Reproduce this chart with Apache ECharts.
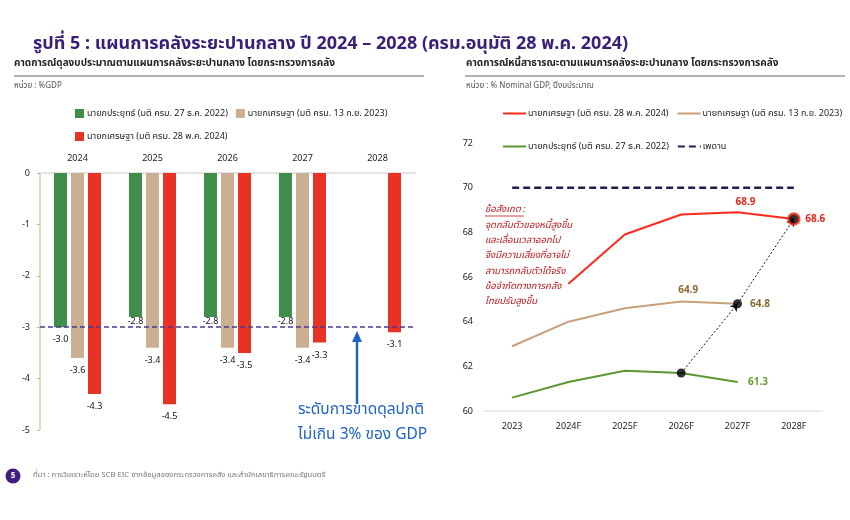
<!DOCTYPE html>
<html><head><meta charset="utf-8">
<script src="https://cdn.jsdelivr.net/npm/echarts@6/dist/echarts.min.js"></script>
<style>html,body{margin:0;padding:0;background:#fff}#c{width:850px;height:520px}</style>
</head><body><div id="c"></div>
<script>
// ---- Left chart data: budget balance (%GDP)
const barYears = ['2024','2025','2026','2027','2028'];
const barPrayut = [-3.0, -2.8, -2.8, -2.8, null];
const barSrettha23 = [-3.6, -3.4, -3.4, -3.4, null];
const barSrettha24 = [-4.3, -4.5, -3.5, -3.3, -3.1];
const deficitLimit = -3;
const barYTicks = [0, -1, -2, -3, -4, -5];

// ---- Right chart data: public debt (% nominal GDP)
const debtYears = ['2023','2024F','2025F','2026F','2027F','2028F'];
const debtSrettha24 = [null, 65.7, 67.9, 68.8, 68.9, 68.6];
const debtSrettha23 = [62.9, 64.0, 64.6, 64.9, 64.8, null];
const debtPrayut = [60.6, 61.3, 61.8, 61.7, 61.3, null];
const debtCeiling = [70, 70, 70, 70, 70, 70];
const debtYTicks = [60, 62, 64, 66, 68, 70, 72];

const nPrayut = 'นายกประยุทธ์ (มติ ครม. 27 ธ.ค. 2022)';
const nSrettha23 = 'นายกเศรษฐา (มติ ครม. 13 ก.ย. 2023)';
const nSrettha24 = 'นายกเศรษฐา (มติ ครม. 28 พ.ค. 2024)';
const ZW = '\u200B';

const FONT = '"Noto Sans", "Noto Sans Thai", Tahoma, sans-serif';
const cGreen = '#3F8F4A', cTan = '#CBAF93', cRed = '#E83224';
const lRed = '#FF2A1A', lTan = '#C9A07A', lGreen = '#5E9632', lNavy = '#1E1E50';

const chart = echarts.init(document.getElementById('c'), null, {renderer:'canvas'});

const barLabel = {show:true, position:'bottom', distance:8, fontSize:9, color:'#111', fontFamily:FONT,
  formatter: p => p.value == null ? '' : p.value.toFixed(1)};

function greenData() {
  return barPrayut.map(v => (v != null && v > -3) ? {value:v, label:{distance:0}} : v);
}
function withLabels(arr, spec) {
  return arr.map((v,i) => spec[i] ? {value:v, label:Object.assign({show:true}, spec[i])} : v);
}
function lineLabel(color) {
  return {show:false, fontSize:10, fontWeight:'bold', color:color, fontFamily:FONT,
    formatter: p => p.value.toFixed(1)};
}

const pivots = [
  [debtYears[3], debtPrayut[3]],
  [debtYears[4], debtSrettha23[4]],
  [debtYears[5], debtSrettha24[5]]
];

const lineLegend = {itemWidth:23, itemHeight:2, itemGap:8, padding:0, width:360,
  itemStyle:{opacity:0},
  textStyle:{fontSize:9, color:'#222', fontFamily:FONT, padding:[0,0,0,-3]}, selectedMode:false};

const option = {
  animation:false,
  textStyle:{fontFamily:FONT},
  grid:[
    {left:40, top:173, width:375, height:257},
    {left:484, top:143, width:338, height:268}
  ],
  legend:[
    {data:[nPrayut, nSrettha23], left:70, top:104, itemWidth:9, itemHeight:9, itemGap:8, icon:'rect',
      textStyle:{fontSize:9, color:'#222', fontFamily:FONT, padding:[0,0,0,-2]}, selectedMode:false},
    {data:[nSrettha24], left:70, top:127, itemWidth:9, itemHeight:9, icon:'rect',
      textStyle:{fontSize:9, color:'#222', fontFamily:FONT, padding:[0,0,0,-2]}, selectedMode:false},
    Object.assign({data:[nSrettha24+ZW, nSrettha23+ZW], left:502, top:109}, lineLegend),
    Object.assign({data:[nPrayut+ZW, 'เพดาน'], left:502, top:142}, lineLegend)
  ],
  xAxis:[
    {type:'category', gridIndex:0, data:barYears, position:'top',
      axisLine:{lineStyle:{color:'#e3e3e3', width:2}}, axisTick:{show:false},
      axisLabel:{fontSize:9, color:'#222', margin:10, fontFamily:FONT}},
    {type:'category', gridIndex:1, data:debtYears,
      axisLine:{lineStyle:{color:'#e6e6e6', width:1.5}}, axisTick:{show:false},
      axisLabel:{fontSize:9, color:'#222', margin:11, fontFamily:FONT}}
  ],
  yAxis:[
    {type:'value', gridIndex:0, min:Math.min(...barYTicks), max:Math.max(...barYTicks), interval:1,
      axisLine:{show:true, lineStyle:{color:'#DCCBB3', width:1.5}},
      axisTick:{show:true, length:3, lineStyle:{color:'#C8AE8C'}},
      splitLine:{show:false}, axisLabel:{fontSize:9, color:'#222', margin:10, fontFamily:FONT}},
    {type:'value', gridIndex:1, min:Math.min(...debtYTicks), max:Math.max(...debtYTicks), interval:2,
      axisLine:{show:false}, axisTick:{show:false}, splitLine:{show:false},
      axisLabel:{fontSize:9, color:'#222', margin:11, fontFamily:FONT}}
  ],
  series:[
    {name:nPrayut, type:'bar', xAxisIndex:0, yAxisIndex:0, data:greenData(), barWidth:13, barGap:'31%',
      itemStyle:{color:cGreen}, label:barLabel},
    {name:nSrettha23, type:'bar', xAxisIndex:0, yAxisIndex:0, data:barSrettha23, barWidth:13, barGap:'31%',
      itemStyle:{color:cTan}, label:barLabel},
    {name:nSrettha24, type:'bar', xAxisIndex:0, yAxisIndex:0, data:barSrettha24, barWidth:13, barGap:'31%',
      itemStyle:{color:cRed}, label:barLabel,
      markLine:{silent:true, symbol:'none', label:{show:false},
        lineStyle:{type:[5,3], color:'#4A3A9A', width:1.5}, data:[{yAxis:deficitLimit}]}},

    {name:'เพดาน', type:'line', xAxisIndex:1, yAxisIndex:1, data:debtCeiling, symbol:'none',
      lineStyle:{color:lNavy, width:2.5, type:[7,4]}, itemStyle:{color:lNavy}},
    {name:nSrettha24+ZW, type:'line', xAxisIndex:1, yAxisIndex:1, symbol:'circle', symbolSize:1, showAllSymbol:true,
      data:withLabels(debtSrettha24, {4:{position:'top', offset:[8,0]}, 5:{position:'right', distance:11}}),
      lineStyle:{color:lRed, width:2}, itemStyle:{color:lRed}, label:lineLabel('#E8281C')},
    {name:nSrettha23+ZW, type:'line', xAxisIndex:1, yAxisIndex:1, symbol:'circle', symbolSize:1, showAllSymbol:true,
      data:withLabels(debtSrettha23, {3:{position:'top', offset:[7,-1]}, 4:{position:'right', distance:12}}),
      lineStyle:{color:lTan, width:2}, itemStyle:{color:lTan}, label:lineLabel('#8A6A2E')},
    {name:nPrayut+ZW, type:'line', xAxisIndex:1, yAxisIndex:1, symbol:'circle', symbolSize:1, showAllSymbol:true,
      data:withLabels(debtPrayut, {4:{position:'right', distance:10}}),
      lineStyle:{color:lGreen, width:2}, itemStyle:{color:lGreen}, label:lineLabel('#6A9F32')},
    {name:'pivot', type:'scatter', xAxisIndex:1, yAxisIndex:1, symbolSize:9, z:5,
      data:pivots.map((d,i)=> i===2 ? {value:d, symbolSize:11, itemStyle:{color:'#000', borderColor:'#FF2A1A', borderWidth:2.5}} : d),
      itemStyle:{color:'#000'},
      markLine:{silent:true, symbol:['none','arrow'], symbolSize:7, label:{show:false},
        lineStyle:{type:[2,2], color:'#111', width:1},
        data:[
          [{coord:pivots[0]},{coord:pivots[1]}],
          [{coord:pivots[1]},{coord:pivots[2]}]
        ]}}
  ],
  graphic:[
    {type:'text', left:33, top:35, style:{text:'รูปที่ 5 : แผนการคลังระยะปานกลาง ปี 2024 – 2028 (ครม.อนุมัติ 28 พ.ค. 2024)',
      font:'bold 18px '+FONT, fill:'#3A1F78'}},
    {type:'text', left:14, top:58, style:{text:'คาดการณ์ดุลงบประมาณตามแผนการคลังระยะปานกลาง โดยกระทรวงการคลัง',
      font:'bold 10px '+FONT, fill:'#222'}},
    {type:'line', shape:{x1:14, y1:76, x2:424, y2:76}, style:{stroke:'#666', lineWidth:1}},
    {type:'text', left:14, top:82, style:{text:'หน่วย : %GDP', font:'8px '+FONT, fill:'#555'}},
    {type:'text', left:466, top:58, style:{text:'คาดการณ์หนี้สาธารณะตามแผนการคลังระยะปานกลาง โดยกระทรวงการคลัง',
      font:'bold 10px '+FONT, fill:'#222'}},
    {type:'line', shape:{x1:465, y1:76, x2:845, y2:76}, style:{stroke:'#666', lineWidth:1}},
    {type:'text', left:466, top:82, style:{text:'หน่วย : % Nominal GDP, ปีงบประมาณ', font:'8px '+FONT, fill:'#555'}},

    {type:'text', left:485, top:202, style:{text:'ข้อสังเกต :\nจุดกลับตัวของหนี้สูงขึ้น\nและเลื่อนเวลาออกไป\nจึงมีความเสี่ยงที่อาจไม่\nสามารถกลับตัวได้จริง\nข้อจำกัดทางการคลัง\nไทยปรับสูงขึ้น',
      font:'italic 9.5px '+FONT, fill:'#C0171C', lineHeight:15.3}},
    {type:'line', shape:{x1:485, y1:216, x2:524, y2:216}, style:{stroke:'#C0171C', lineWidth:0.8}},

    {type:'line', shape:{x1:357, y1:404, x2:357, y2:340}, style:{stroke:'#1F63C6', lineWidth:2.5}},
    {type:'polygon', shape:{points:[[352,342],[362,342],[357,331]]}, style:{fill:'#1F63C6'}},
    {type:'text', left:298, top:402, style:{text:'ระดับการขาดดุลปกติ', font:'15.5px '+FONT, fill:'#1F63C6'}},
    {type:'text', left:298, top:427, style:{text:'ไม่เกิน 3% ของ GDP', font:'15.5px '+FONT, fill:'#1F63C6'}},

    {type:'circle', shape:{cx:13, cy:476, r:7.5}, style:{fill:'#3E1F7E'}},
    {type:'text', x:13, y:476, style:{text:'5', font:'bold 8px '+FONT, fill:'#fff', align:'center', verticalAlign:'middle'}},
    {type:'text', left:33, top:471, style:{text:'ที่มา : การวิเคราะห์โดย SCB EIC จากข้อมูลของกระทรวงการคลัง และสำนักเลขาธิการคณะรัฐมนตรี',
      font:'7.7px '+FONT, fill:'#777'}}
  ]
};
chart.setOption(option);
</script></body></html>
